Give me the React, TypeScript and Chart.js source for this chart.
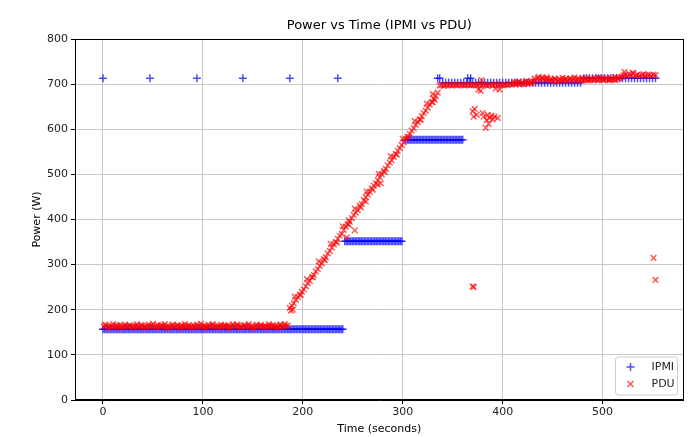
import React, { useEffect, useRef } from "react";
import { Chart, registerables } from "chart.js";

Chart.register(...registerables);

// ---------------- DATA ----------------
const chartTitle = "Power vs Time (IPMI vs PDU)";
const xTickValues = [0, 100, 200, 300, 400, 500];

// IPMI readings (seconds, watts)
const ipmiTime = [
  0, 47, 94, 140, 187, 235, 335, 337, 365, 368,
  0, 3, 6, 9, 12, 15, 18, 21, 24, 27, 30, 33, 36, 39, 42, 45, 48, 51, 54, 57,
  60, 63, 66, 69, 72, 75, 78, 81, 84, 87, 90, 93, 96, 99, 102, 105, 108, 111, 114, 117,
  120, 123, 126, 129, 132, 135, 138, 141, 144, 147, 150, 153, 156, 159, 162, 165, 168, 171, 174, 177,
  180, 183, 186, 189, 192, 195, 198, 201, 204, 207, 210, 213, 216, 219, 222, 225, 228, 231, 234, 237, 240,
  1.5, 4.5, 7.5, 10.5, 13.5, 16.5, 19.5, 22.5, 25.5, 28.5, 31.5, 34.5, 37.5, 40.5, 43.5, 46.5, 49.5, 52.5, 55.5, 58.5,
  61.5, 64.5, 67.5, 70.5, 73.5, 76.5, 79.5, 82.5, 85.5, 88.5, 91.5, 94.5, 97.5, 100.5, 103.5, 106.5, 109.5, 112.5, 115.5, 118.5,
  121.5, 124.5, 127.5, 130.5, 133.5, 136.5, 139.5, 142.5, 145.5, 148.5, 151.5, 154.5, 157.5, 160.5, 163.5, 166.5, 169.5, 172.5, 175.5, 178.5,
  181.5, 184.5, 187.5, 190.5, 193.5, 196.5, 199.5, 202.5, 205.5, 208.5, 211.5, 214.5, 217.5, 220.5, 223.5, 226.5, 229.5, 232.5, 235.5, 238.5,
  242, 245, 248, 251, 254, 257, 260, 263, 266, 269, 272, 275, 278, 281, 284, 287, 290, 293, 296, 299,
  243.5, 246.5, 249.5, 252.5, 255.5, 258.5, 261.5, 264.5, 267.5, 270.5, 273.5, 276.5, 279.5, 282.5, 285.5, 288.5, 291.5, 294.5, 297.5,
  303, 306, 309, 312, 315, 318, 321, 324, 327, 330, 333, 336, 339, 342, 345, 348, 351, 354, 357, 360,
  304.5, 307.5, 310.5, 313.5, 316.5, 319.5, 322.5, 325.5, 328.5, 331.5, 334.5, 337.5, 340.5, 343.5, 346.5, 349.5, 352.5, 355.5, 358.5,
  340, 343, 346, 349, 352, 355, 358, 361, 364, 367, 370, 373, 376, 379, 382, 385, 388, 391, 394, 397,
  400, 403, 406, 409, 412, 415, 418, 421, 424, 427, 430, 433, 436, 439, 442, 445, 448, 451, 454, 457,
  460, 463, 466, 469, 472, 475, 478,
  481, 484, 487, 490, 493, 496, 499, 502, 505, 508, 511, 514, 517, 520, 523, 526, 529, 532, 535, 538,
  541, 544, 547, 550, 553,
];
const ipmiPower = [
  713, 713, 713, 713, 713, 713, 713, 713, 713, 713,
  157, 157, 157, 157, 157, 157, 157, 157, 157, 157, 157, 157, 157, 157, 157, 157, 157, 157, 157, 157,
  157, 157, 157, 157, 157, 157, 157, 157, 157, 157, 157, 157, 157, 157, 157, 157, 157, 157, 157, 157,
  157, 157, 157, 157, 157, 157, 157, 157, 157, 157, 157, 157, 157, 157, 157, 157, 157, 157, 157, 157,
  157, 157, 157, 157, 157, 157, 157, 157, 157, 157, 157, 157, 157, 157, 157, 157, 157, 157, 157, 157, 157,
  157, 157, 157, 157, 157, 157, 157, 157, 157, 157, 157, 157, 157, 157, 157, 157, 157, 157, 157, 157,
  157, 157, 157, 157, 157, 157, 157, 157, 157, 157, 157, 157, 157, 157, 157, 157, 157, 157, 157, 157,
  157, 157, 157, 157, 157, 157, 157, 157, 157, 157, 157, 157, 157, 157, 157, 157, 157, 157, 157, 157,
  157, 157, 157, 157, 157, 157, 157, 157, 157, 157, 157, 157, 157, 157, 157, 157, 157, 157, 157, 157,
  352, 352, 352, 352, 352, 352, 352, 352, 352, 352, 352, 352, 352, 352, 352, 352, 352, 352, 352, 352,
  352, 352, 352, 352, 352, 352, 352, 352, 352, 352, 352, 352, 352, 352, 352, 352, 352, 352, 352,
  577, 577, 577, 577, 577, 577, 577, 577, 577, 577, 577, 577, 577, 577, 577, 577, 577, 577, 577, 577,
  577, 577, 577, 577, 577, 577, 577, 577, 577, 577, 577, 577, 577, 577, 577, 577, 577, 577, 577,
  703, 703, 703, 703, 703, 703, 703, 703, 703, 703, 703, 703, 703, 703, 703, 703, 703, 703, 703, 703,
  703, 703, 703, 703, 703, 703, 703, 703, 703, 703, 703, 703, 703, 703, 703, 703, 703, 703, 703, 703,
  703, 703, 703, 703, 703, 703, 703,
  713, 713, 713, 713, 713, 713, 713, 713, 713, 713, 713, 713, 713, 713, 713, 713, 713, 713, 713, 713,
  713, 713, 713, 713, 713,
];

// PDU readings (seconds, watts)
const pduTime = [
  1, 3, 5, 7, 9, 11, 13, 15, 17, 19, 21, 23, 25, 27, 29, 31, 33, 35, 37, 39,
  41, 43, 45, 47, 49, 51, 53, 55, 57, 59, 61, 63, 65, 67, 69, 71, 73, 75, 77, 79,
  81, 83, 85, 87, 89, 91, 93, 95, 97, 99, 101, 103, 105, 107, 109, 111, 113, 115, 117, 119,
  121, 123, 125, 127, 129, 131, 133, 135, 137, 139, 141, 143, 145, 147, 149, 151, 153, 155, 157, 159,
  161, 163, 165, 167, 169, 171, 173, 175, 177, 179, 181, 183, 185,
  2, 6, 10, 14, 18, 22, 26, 30, 34, 38, 42, 46, 50, 54, 58, 62, 66, 70, 74, 78,
  82, 86, 90, 94, 98, 102, 106, 110, 114, 118, 122, 126, 130, 134, 138, 142, 146, 150, 154, 158,
  162, 166, 170, 174, 178, 182,
  187, 189, 191, 193, 195, 197, 199, 201, 203, 205, 207, 209, 211, 213, 215, 217, 219, 221, 223, 225,
  227, 229, 231, 233, 235, 237, 239, 241, 243, 245, 247, 249, 251, 253, 255, 257, 259, 261, 263, 265,
  267, 269, 271, 273, 275, 277, 279, 281, 283, 285, 287, 289, 291, 293, 295, 297, 299, 301, 303, 305,
  307, 309, 311, 313, 315, 317, 319, 321, 323, 325, 327, 329, 331, 333, 335,
  192, 198, 204, 210, 216, 222, 228, 234, 240, 246, 252, 258, 264, 270, 276, 282, 288, 294, 300, 306,
  312, 318, 324, 330,
  188, 190, 244, 246, 252, 263, 275, 278, 330, 332,
  337, 339, 341, 343, 345, 347, 349, 351, 353, 355, 357, 359, 361, 363, 365, 367, 369, 371, 373, 375,
  377, 379, 381, 383, 385, 387, 389, 391, 393, 395, 397, 399, 401, 403, 405, 407, 409,
  370, 371, 372, 374, 376, 378, 379, 380, 381, 383, 384, 385, 386, 387, 389, 390, 392, 393, 395, 397,
  370, 371,
  411, 413, 415, 417, 419, 421, 423, 425, 427, 429, 431, 433, 435, 437, 439, 441, 443, 445, 447, 449,
  451, 453, 455, 457, 459, 461, 463, 465, 467, 469, 471, 473, 475, 477, 479, 481, 483, 485, 487, 489,
  491, 493, 495, 497, 499, 501, 503, 505, 507, 509, 511, 513, 515, 517, 519,
  412, 416, 420, 424, 428, 432, 436, 440, 444, 448, 452, 456, 460, 464, 468, 472, 476, 480, 484, 488,
  492, 496, 500, 504, 508, 512, 516,
  521, 523, 525, 527, 529, 531, 533, 535, 537, 539, 541, 543, 545, 547, 549, 551, 553,
  522, 530, 551, 553,
];
const pduPower = [
  163, 165, 162, 164, 163, 161, 164, 163, 166, 162, 163, 164, 162, 165, 163, 162, 164, 163, 161, 165,
  163, 162, 164, 163, 165, 162, 163, 166, 162, 164, 163, 161, 164, 162, 165, 163, 162, 164, 163, 165,
  162, 163, 164, 161, 163, 165, 162, 164, 163, 162, 165, 163, 162, 164, 166, 163, 162, 164, 163, 161,
  164, 163, 165, 162, 163, 164, 162, 166, 163, 162, 164, 163, 165, 162, 163, 161, 164, 163, 165, 162,
  163, 164, 162, 165, 163, 162, 164, 163, 166, 162, 163, 164, 165,
  167, 160, 168, 166, 160, 167, 165, 161, 168, 166, 160, 167, 169, 161, 166, 168, 160, 167, 166, 160,
  168, 166, 161, 167, 169, 160, 166, 168, 161, 167, 166, 160, 168, 167, 161, 166, 168, 160, 167, 166,
  161, 168, 166, 160, 167, 168,
  204, 209, 214, 222, 228, 233, 240, 245, 252, 259, 264, 272, 277, 285, 290, 297, 303, 312, 316, 325,
  330, 338, 345, 350, 357, 364, 368, 377, 384, 390, 395, 403, 410, 415, 421, 430, 434, 443, 449, 455,
  461, 469, 475, 480, 487, 494, 500, 507, 512, 520, 526, 531, 539, 545, 552, 558, 565, 571, 578, 583,
  590, 597, 602, 610, 616, 622, 629, 636, 641, 648, 655, 660, 668, 674, 681,
  229, 233, 268, 272, 307, 310, 346, 349, 385, 388, 424, 427, 462, 466, 501, 505, 540, 544, 579, 583,
  618, 621, 657, 660,
  198, 200, 360, 398, 376, 440, 478, 480, 678, 665,
  697, 698, 696, 699, 697, 698, 697, 699, 698, 697, 699, 698, 697, 698, 699, 697, 698, 699, 697, 698,
  700, 697, 699, 698, 696, 699, 697, 698, 700, 697, 699, 698, 697, 699, 698, 700, 699,
  640, 628, 645, 632, 688, 685, 709, 636, 628, 603, 620, 632, 612, 625, 630, 622, 628, 690, 625, 688,
  252, 250,
  701, 700, 703, 699, 702, 700, 704, 701, 703, 702, 706, 708, 713, 709, 714, 711, 710, 712, 708, 709,
  707, 710, 706, 711, 708, 709, 712, 707, 710, 708, 711, 709, 712, 707, 710, 709, 711, 708, 710, 712,
  709, 711, 708, 710, 712, 709, 711, 710, 708, 711, 710, 709, 712, 714, 716,
  704, 706, 703, 707, 705, 712, 716, 714, 715, 711, 713, 709, 714, 710, 713, 715, 711, 714, 712, 709,
  713, 715, 711, 714, 712, 716, 713,
  719, 721, 718, 722, 720, 724, 719, 721, 718, 720, 722, 719, 721, 720, 718, 721, 720,
  727, 725, 315, 266,
];

const seriesNames = ["IPMI", "PDU"];
const seriesColors = ["rgba(0,0,255,0.7)", "rgba(255,0,0,0.65)"];

const FONT = "'DejaVu Sans', sans-serif";

const framePlugin = {
  id: "frameAndLegend",
  afterDraw(chart: any) {
    const { ctx, chartArea } = chart;
    ctx.save();
    // title centred over the plot area
    ctx.fillStyle = "#000";
    ctx.font = `13px ${FONT}`;
    ctx.textAlign = "center";
    ctx.textBaseline = "middle";
    ctx.fillText(chartTitle, (chartArea.left + chartArea.right) / 2, 26);
    // axes frame
    ctx.strokeStyle = "#000";
    ctx.lineWidth = 1;
    ctx.strokeRect(
      Math.round(chartArea.left) + 0.5,
      Math.round(chartArea.top) + 0.5,
      Math.round(chartArea.right - chartArea.left) - 1,
      Math.round(chartArea.bottom - chartArea.top) - 1
    );
    // legend box (bottom right inside plot)
    const bw = 62, bh = 38;
    const bx = chartArea.right - 68, by = chartArea.bottom - 43;
    ctx.beginPath();
    const r = 3;
    ctx.moveTo(bx + r, by);
    ctx.arcTo(bx + bw, by, bx + bw, by + bh, r);
    ctx.arcTo(bx + bw, by + bh, bx, by + bh, r);
    ctx.arcTo(bx, by + bh, bx, by, r);
    ctx.arcTo(bx, by, bx + bw, by, r);
    ctx.closePath();
    ctx.fillStyle = "rgba(255,255,255,0.8)";
    ctx.fill();
    ctx.strokeStyle = "#cccccc";
    ctx.stroke();
    ctx.font = `11px ${FONT}`;
    ctx.textBaseline = "middle";
    ctx.textAlign = "left";
    for (let i = 0; i < 2; i++) {
      const cy = by + 10 + i * 17;
      const cx = bx + 15;
      ctx.strokeStyle = seriesColors[i];
      ctx.lineWidth = 1.5;
      ctx.beginPath();
      if (i === 0) {
        ctx.moveTo(cx - 4, cy); ctx.lineTo(cx + 4, cy);
        ctx.moveTo(cx, cy - 4); ctx.lineTo(cx, cy + 4);
      } else {
        ctx.moveTo(cx - 3, cy - 3); ctx.lineTo(cx + 3, cy + 3);
        ctx.moveTo(cx + 3, cy - 3); ctx.lineTo(cx - 3, cy + 3);
      }
      ctx.stroke();
      ctx.fillStyle = "#222";
      ctx.fillText(seriesNames[i], bx + 36, cy);
    }
    ctx.restore();
  },
};

export default function App() {
  const ref = useRef<HTMLCanvasElement | null>(null);
  useEffect(() => {
    if (!ref.current) return;
    const ipmiData = ipmiTime.map((t, i) => ({ x: t, y: ipmiPower[i] }));
    const pduData = pduTime.map((t, i) => ({ x: t, y: pduPower[i] }));
    const chart = new Chart(ref.current, {
      type: "scatter",
      data: {
        datasets: [
          {
            label: seriesNames[0],
            data: ipmiData,
            pointStyle: "cross",
            radius: 4,
            borderWidth: 1.5,
            borderColor: seriesColors[0],
            backgroundColor: seriesColors[0],
            order: 2,
          },
          {
            label: seriesNames[1],
            data: pduData,
            pointStyle: "crossRot",
            radius: 4,
            borderWidth: 1.5,
            borderColor: seriesColors[1],
            backgroundColor: seriesColors[1],
            order: 1,
          },
        ],
      },
      options: {
        animation: false,
        responsive: false,
        devicePixelRatio: 1,
        layout: { padding: { left: 0, right: 5, top: 39, bottom: 0 } },
        plugins: {
          legend: { display: false },
          tooltip: { enabled: false },
          title: { display: false },
        },
        scales: {
          x: {
            type: "linear",
            min: -28,
            max: 581,
            afterBuildTicks: (scale: any) => {
              scale.ticks = xTickValues.map((v) => ({ value: v }));
            },
            afterFit: (scale: any) => {
              scale.height = 37;
            },
            grid: { color: "#c8c8c8", lineWidth: 1, tickLength: 4, tickColor: "#000" },
            border: { color: "#000", width: 1 },
            ticks: { color: "#222", font: { family: FONT, size: 11 }, padding: 2, maxRotation: 0 },
            title: {
              display: true,
              text: "Time (seconds)",
              color: "#000",
              font: { family: FONT, size: 11 },
              padding: { top: 0, bottom: 1 },
            },
          },
          y: {
            min: 0,
            max: 800,
            afterFit: (scale: any) => {
              scale.width = 75;
            },
            grid: { color: "#c8c8c8", lineWidth: 1, tickLength: 4, tickColor: "#000" },
            border: { color: "#000", width: 1 },
            ticks: { stepSize: 100, color: "#222", font: { family: FONT, size: 11 }, padding: 3 },
            title: {
              display: true,
              text: "Power (W)",
              color: "#000",
              font: { family: FONT, size: 11 },
              padding: { top: 31, bottom: 0 },
            },
          },
        },
      },
      plugins: [framePlugin],
    } as any);
    return () => chart.destroy();
  }, []);
  return (
    <div style={{ position: "absolute", left: 0, top: 0, width: 689, height: 437, background: "#fff" }}>
      <canvas ref={ref} width={689} height={437} />
    </div>
  );
}
